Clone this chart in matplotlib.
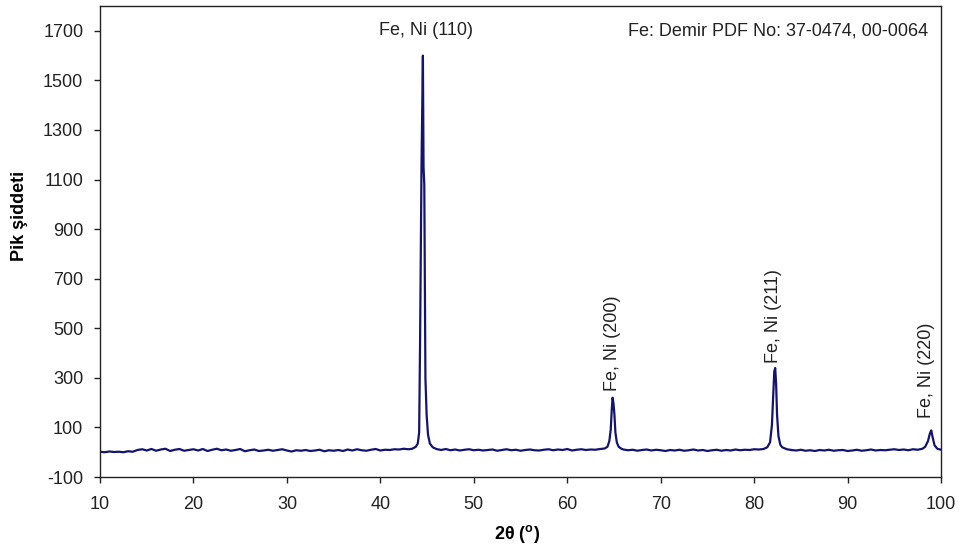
import matplotlib
matplotlib.use("Agg")
import matplotlib.pyplot as plt

plt.rcParams['font.family'] = ['Liberation Sans', 'DejaVu Sans']
plt.rcParams['axes.unicode_minus'] = False

two_theta = [
    10.0, 10.5, 11.0, 11.5, 12.0, 12.5, 13.0, 13.5, 14.0, 14.5, 15.0, 15.5,
    16.0, 16.5, 17.0, 17.5, 18.0, 18.5, 19.0, 19.5, 20.0, 20.5, 21.0, 21.5,
    22.0, 22.5, 23.0, 23.5, 24.0, 24.5, 25.0, 25.5, 26.0, 26.5, 27.0, 27.5,
    28.0, 28.5, 29.0, 29.5, 30.0, 30.5, 31.0, 31.5, 32.0, 32.5, 33.0, 33.5,
    34.0, 34.5, 35.0, 35.5, 36.0, 36.5, 37.0, 37.5, 38.0, 38.5, 39.0, 39.5,
    40.0, 40.5, 41.0, 41.5, 42.0, 42.5, 43.0,
    43.4, 43.8, 44.0, 44.15, 44.25, 44.4, 44.55, 44.62, 44.7, 44.82, 44.95,
    45.1, 45.3, 45.6,
    46.0, 46.5, 47.0, 47.5, 48.0, 48.5, 49.0, 49.5, 50.0, 50.5, 51.0, 51.5,
    52.0, 52.5, 53.0, 53.5, 54.0, 54.5, 55.0, 55.5, 56.0, 56.5, 57.0, 57.5,
    58.0, 58.5, 59.0, 59.5, 60.0, 60.5, 61.0, 61.5, 62.0, 62.5, 63.0, 63.5,
    64.0, 64.3, 64.5, 64.65, 64.75, 64.85, 64.95, 65.05, 65.15, 65.3, 65.5, 65.8,
    66.0, 66.5, 67.0, 67.5, 68.0, 68.5, 69.0, 69.5, 70.0, 70.5, 71.0, 71.5,
    72.0, 72.5, 73.0, 73.5, 74.0, 74.5, 75.0, 75.5, 76.0, 76.5, 77.0, 77.5,
    78.0, 78.5, 79.0, 79.5, 80.0, 80.5, 81.0,
    81.4, 81.7, 81.9, 82.05, 82.15, 82.25, 82.35, 82.45, 82.6, 82.8, 83.0,
    83.5, 84.0, 84.5, 85.0, 85.5, 86.0, 86.5, 87.0, 87.5, 88.0, 88.5, 89.0,
    89.5, 90.0, 90.5, 91.0, 91.5, 92.0, 92.5, 93.0, 93.5, 94.0, 94.5, 95.0,
    95.5, 96.0, 96.5, 97.0, 97.5, 98.0,
    98.3, 98.6, 98.8, 98.95, 99.1, 99.3, 99.6, 100.0,
]
intensity = [
    2, 0, 3, 1, 2, 0, 4, 2, 9, 12, 7, 13,
    6, 11, 14, 5, 10, 13, 6, 9, 12, 7, 13, 5,
    10, 14, 8, 11, 6, 9, 13, 4, 8, 11, 5, 7,
    10, 6, 9, 12, 7, 3, 8, 6, 9, 5, 7, 10,
    4, 8, 6, 9, 5, 11, 7, 12, 8, 6, 10, 13,
    7, 10, 9, 12, 11, 14, 12,
    14, 22, 35, 80, 450, 1150, 1600, 1150, 1080, 300, 150,
    70, 35, 20,
    13, 9, 13, 8, 11, 7, 10, 12, 8, 10, 7, 9,
    11, 6, 9, 12, 8, 10, 6, 9, 11, 8, 7, 10,
    12, 8, 11, 9, 13, 7, 10, 12, 9, 11, 10, 13,
    15, 22, 45, 90, 165, 220, 195, 150, 80, 40, 22, 14,
    11, 8, 10, 6, 9, 11, 7, 10, 8, 5, 9, 7,
    10, 6, 8, 11, 7, 9, 5, 8, 10, 6, 9, 7,
    11, 8, 10, 9, 12, 11, 13,
    20, 40, 110, 240, 325, 340, 275, 150, 65, 30, 20,
    12, 9, 7, 10, 6, 8, 5, 9, 7, 10, 6, 8,
    9, 5, 7, 10, 6, 8, 11, 7, 9, 8, 10, 12,
    9, 11, 8, 12, 10, 14,
    22, 45, 75, 88, 60, 28, 14, 10,
]

peak_labels = ["Fe, Ni (200)", "Fe, Ni (211)", "Fe, Ni (220)"]
peak_pos = [64.8, 82.1, 98.4]
label_base = [249, 362, 139]

fig = plt.figure(figsize=(9.59, 5.55), dpi=100)
ax = fig.add_axes([0.1043, 0.1405, 0.877, 0.8486])
ax.plot(two_theta, intensity, color='#141470', linewidth=1.6)

ax.set_xlim(10, 100)
ax.set_ylim(-100, 1800)
ax.set_xticks(range(10, 101, 10))
ax.set_yticks(range(-100, 1701, 200))
ax.tick_params(direction='out', length=4.5, width=1, labelsize=13, colors='#222222')
ax.tick_params(axis='x', pad=9)
ax.tick_params(axis='y', pad=7.5)
for s in ax.spines.values():
    s.set_linewidth(1)
    s.set_color('#222222')

ax.set_xlabel(r'2θ ($^\mathregular{o}$)', fontsize=13, fontweight='bold', va='center')
ax.xaxis.set_label_coords(0.496, -0.121)
ax.set_ylabel('Pik şiddeti', fontsize=13, fontweight='bold', va='center')
ax.yaxis.set_label_coords(-0.096, 0.554)

ax.text(44.9, 1685, 'Fe, Ni (110)', ha='center', va='baseline', fontsize=13, color='#222222')
for lab, x, y in zip(peak_labels, peak_pos, label_base):
    ax.text(x, y, lab, rotation=90, ha='center', va='bottom', fontsize=13, color='#222222')
ax.text(98.6, 1681, 'Fe: Demir PDF No: 37-0474, 00-0064', ha='right', va='baseline',
        fontsize=13, color='#222222')

fig.savefig('out.png', dpi=100)
